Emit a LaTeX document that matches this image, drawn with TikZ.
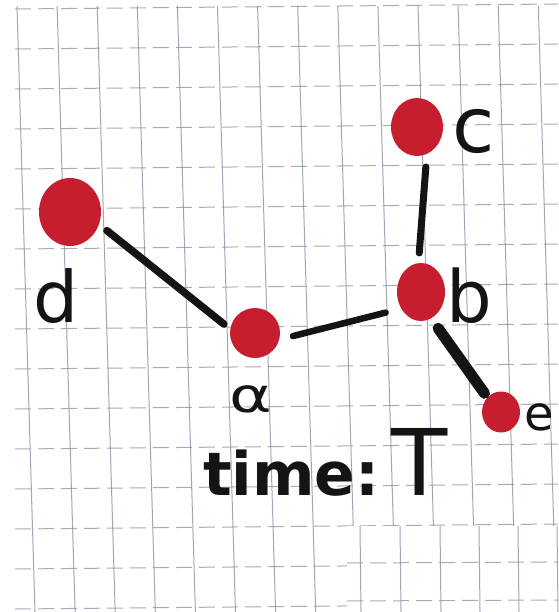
\documentclass[tikz,border=0pt]{standalone}
\usepackage{fontspec}
\setmainfont{DejaVu Sans}
\usetikzlibrary{shapes.geometric}
\definecolor{gridc}{RGB}{138,144,164}
\definecolor{dotred}{RGB}{198,30,46}
\definecolor{ink}{RGB}{20,20,20}
\tikzset{
  gridv/.style={draw=gridc, line width=1pt, opacity=0.8},
  gridh/.style={draw=gridc, line width=1pt, opacity=0.75, dash pattern=on 16pt off 7pt},
  vert/.style={ellipse, fill=dotred, draw=none, inner sep=0pt},
  edge/.style={draw=ink, line width=7.5pt, line cap=round},
  lbl/.style={inner sep=0pt, text=ink, anchor=base}
}
\begin{document}
\begin{tikzpicture}[x=1pt,y=-1pt]
\useasboundingbox (0,0) rectangle (558,612);
\fill[white] (0,0) rectangle (558,612);
% grid paper
\foreach \k in {0,...,13}{
  \draw[gridv] ({17+40.1*\k},6) -- ({35+40.1*\k},612);
}
\foreach \j in {0,...,15}{
  \draw[gridh] (15,{9+40*\j}) -- (558,{4+40*\j});
}
% pasted patch (lower right)
\fill[white] (347,526) rectangle (558,612);
\foreach \x in {360,400,440,479,518,557}{
  \draw[gridv] (\x,526) -- ({\x+1},612);
}
\foreach \y in {563,601}{
  \draw[gridh] (347,\y) -- (558,{\y-1});
}
% vertices
\node[vert, minimum width=62pt, minimum height=68pt] (d) at (70,212) {};
\node[vert, minimum width=52pt, minimum height=58pt] (c) at (417,127) {};
\node[vert, minimum width=48pt, minimum height=58pt] (b) at (421,292) {};
\node[vert, minimum width=50pt, minimum height=50pt] (a) at (255,333) {};
\node[vert, minimum width=38pt, minimum height=41pt] (e) at (501,412) {};
% edges
\draw[edge, shorten <=10pt, shorten >=8pt] (d.-23) -- (a.171);
\draw[edge, line width=7pt, shorten <=13pt, shorten >=10pt] (c.-70) -- (b.95);
\draw[edge, line width=6.5pt, shorten <=14pt, shorten >=16pt] (a.-15) -- (b.220);
\draw[edge, line width=11pt, shorten <=12pt, shorten >=5pt] (b.-69) -- (e.133);
% labels
\node[lbl, font=\fontsize{71}{71}\selectfont] (ld) at (56,322) {d};
\node[lbl, font=\fontsize{77}{77}\selectfont] (lc) at (474,153) {c};
\node[lbl, font=\fontsize{72}{72}\selectfont] (lb) at (469,322) {b};
\node[lbl, font=\fontsize{48}{48}\selectfont] (le) at (539,430) {e};
\node[lbl, font=\fontsize{48}{48}\selectfont, xscale=1.35] (la) at (251,412) {α};
\node[lbl, anchor=base west, font=\bfseries\fontsize{60}{60}\selectfont] (lt) at (203,495) {time:\kern12pt{\mdseries\fontsize{92}{92}\selectfont T}};
\end{tikzpicture}
\end{document}
